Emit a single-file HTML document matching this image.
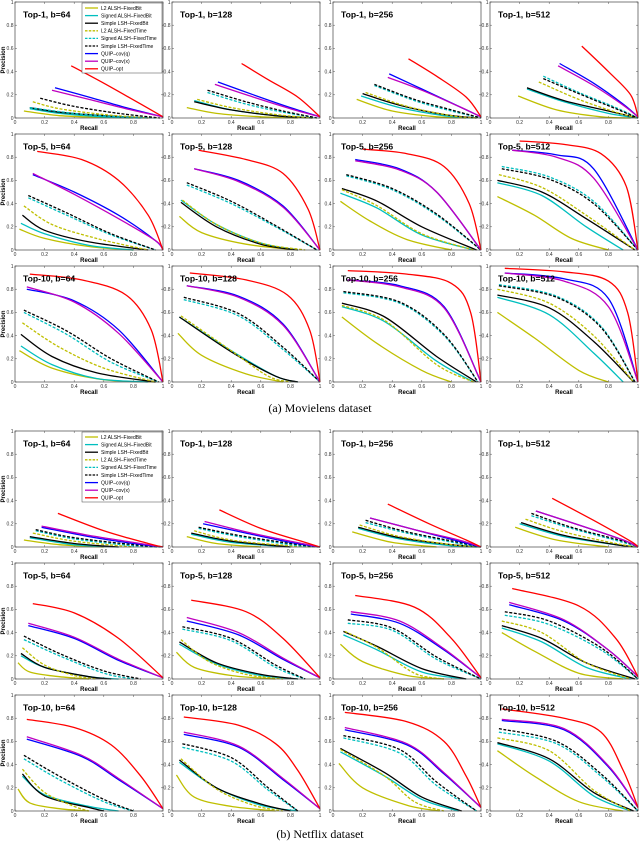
<!DOCTYPE html>
<html><head><meta charset="utf-8"><style>
html,body{margin:0;padding:0;background:#fff;}
svg{display:block;}
text{font-family:"Liberation Sans",Arial,sans-serif;}
</style></head><body>
<svg id="fig" width="640" height="844" viewBox="0 0 640 844" xmlns="http://www.w3.org/2000/svg"></svg>
<script>
// Panel order: Movielens Top-1 (b=64,128,256,512), Top-5, Top-10, then Netflix same order
const panelTitles = ["Top-1, b=64","Top-1, b=128","Top-1, b=256","Top-1, b=512",
 "Top-5, b=64","Top-5, b=128","Top-5, b=256","Top-5, b=512",
 "Top-10, b=64","Top-10, b=128","Top-10, b=256","Top-10, b=512",
 "Top-1, b=64","Top-1, b=128","Top-1, b=256","Top-1, b=512",
 "Top-5, b=64","Top-5, b=128","Top-5, b=256","Top-5, b=512",
 "Top-10, b=64","Top-10, b=128","Top-10, b=256","Top-10, b=512"];
const xTicks = [0,0.2,0.4,0.6,0.8,1];
const yTicks = [0,0.2,0.4,0.6,0.8,1];
const xTickLabels = ["0","0.2","0.4","0.6","0.8","1"];
const yTickLabels = ["0","0.2","0.4","0.6","0.8","1"];
const seriesNames = ["L2 ALSH\u2013FixedBit","Signed ALSH\u2013FixedBit","Simple LSH\u2013FixedBit","L2 ALSH\u2013FixedTime","Signed ALSH\u2013FixedTime","Simple LSH\u2013FixedTime","QUIP\u2013cov(q)","QUIP\u2013cov(x)","QUIP\u2013opt"];

const L2FB = [
[[.06,.06],[.3,.02],[.6,.005],[.8,0]],
[[.1,.09],[.3,.04],[.6,.01],[.85,0]],
[[.16,.16],[.4,.06],[.7,.01],[.9,0]],
[[.19,.19],[.45,.07],[.75,.01],[.95,0]],
[[.03,.18],[.2,.1],[.5,.03],[.8,0]],
[[.05,.29],[.2,.15],[.5,.05],[.85,0]],
[[.05,.42],[.25,.25],[.5,.09],[.8,0]],
[[.05,.46],[.3,.3],[.55,.1],[.8,0]],
[[.03,.27],[.25,.12],[.6,.02],[.95,0]],
[[.04,.42],[.2,.23],[.5,.07],[.75,0]],
[[.06,.56],[.3,.33],[.6,.1],[.8,0]],
[[.05,.6],[.3,.38],[.6,.1],[.8,0]],
[[.06,.06],[.3,.02],[.6,0]],
[[.1,.09],[.3,.03],[.6,0]],
[[.13,.13],[.4,.04],[.7,0]],
[[.17,.17],[.45,.06],[.8,0]],
[[.02,.14],[.1,.06],[.3,.02],[.5,0]],
[[.03,.23],[.15,.1],[.4,.03],[.7,0]],
[[.05,.3],[.2,.15],[.5,.03],[.75,0]],
[[.08,.4],[.3,.24],[.6,.05],[.9,0]],
[[.02,.19],[.1,.07],[.3,.02],[.5,0]],
[[.03,.31],[.15,.12],[.4,.04],[.7,0]],
[[.04,.41],[.2,.2],[.5,.05],[.72,0]],
[[.05,.52],[.3,.3],[.6,.08],[.9,0]]];
const SAFB = [
[[.1,.08],[.3,.04],[.6,.01],[.85,0]],
[[.15,.15],[.4,.07],[.7,.02],[.95,0]],
[[.19,.19],[.45,.09],[.75,.02],[.95,0]],
[[.25,.25],[.5,.14],[.8,.04],[1,0]],
[[.04,.23],[.2,.14],[.5,.04],[.8,0]],
[[.06,.43],[.3,.22],[.6,.06],[.85,0]],
[[.05,.49],[.3,.36],[.6,.13],[.95,0]],
[[.05,.58],[.35,.47],[.65,.2],[.9,0]],
[[.04,.31],[.25,.15],[.55,.03],[.9,0]],
[[.05,.56],[.4,.27],[.7,.05],[.85,0]],
[[.06,.65],[.35,.52],[.7,.18],[.95,0]],
[[.05,.73],[.4,.58],[.7,.25],[.9,0]],
[[.1,.08],[.4,.02],[.7,0]],
[[.13,.11],[.4,.04],[.8,0]],
[[.17,.16],[.45,.07],[.8,.01],[1,0]],
[[.2,.2],[.5,.09],[.85,.02],[1,0]],
[[.04,.2],[.2,.1],[.5,.02],[.7,0]],
[[.05,.3],[.3,.13],[.6,.03],[.85,0]],
[[.07,.38],[.3,.25],[.6,.06],[.9,0]],
[[.08,.44],[.35,.32],[.65,.1],[.95,0]],
[[.05,.3],[.2,.14],[.5,.04],[.7,0]],
[[.05,.42],[.3,.2],[.6,.05],[.85,0]],
[[.05,.51],[.35,.3],[.6,.1],[.85,0]],
[[.05,.58],[.4,.43],[.7,.13],[.95,0]]];
const SLFB = [
[[.1,.09],[.3,.05],[.6,.02],[.9,0]],
[[.15,.14],[.4,.07],[.7,.02],[.95,0]],
[[.2,.21],[.45,.11],[.75,.03],[.97,0]],
[[.25,.26],[.5,.15],[.8,.06],[1,0]],
[[.05,.3],[.2,.17],[.5,.07],[.9,0]],
[[.06,.41],[.3,.2],[.6,.05],[.85,0]],
[[.06,.53],[.3,.42],[.6,.2],[.97,0]],
[[.05,.6],[.35,.5],[.65,.27],[.98,0]],
[[.04,.41],[.25,.22],[.55,.08],[.95,0]],
[[.05,.56],[.4,.26],[.7,.05],[.85,0]],
[[.06,.68],[.35,.56],[.7,.22],[.97,0]],
[[.05,.75],[.4,.64],[.7,.35],[.97,0]],
[[.1,.09],[.4,.03],[.7,0]],
[[.13,.12],[.4,.05],[.8,0]],
[[.17,.17],[.45,.08],[.8,.02],[1,0]],
[[.21,.21],[.5,.1],[.85,.02],[1,0]],
[[.04,.22],[.2,.1],[.5,.02],[.65,0]],
[[.05,.32],[.3,.14],[.6,.04],[.85,0]],
[[.07,.41],[.3,.28],[.6,.09],[.9,0]],
[[.08,.46],[.35,.35],[.65,.14],[.98,0]],
[[.05,.32],[.2,.13],[.5,.03],[.6,0]],
[[.05,.44],[.3,.2],[.6,.06],[.8,0]],
[[.05,.54],[.35,.33],[.6,.12],[.87,0]],
[[.05,.59],[.4,.45],[.7,.16],[.97,0]]];
const L2FT = [
[[.12,.14],[.3,.08],[.6,.03],[.9,0]],
[[.17,.16],[.4,.09],[.7,.03],[.95,0]],
[[.22,.22],[.5,.1],[.8,.02],[.97,0]],
[[.33,.31],[.6,.16],[.85,.05],[1,0]],
[[.06,.38],[.25,.22],[.55,.1],[.9,0]],
[[.07,.43],[.3,.22],[.6,.06],[.9,0]],
[[.06,.52],[.3,.38],[.6,.14],[.95,0]],
[[.06,.65],[.35,.54],[.65,.3],[.98,0]],
[[.05,.51],[.3,.3],[.6,.12],[.95,0]],
[[.06,.57],[.4,.27],[.65,.05],[.8,0]],
[[.06,.66],[.35,.53],[.7,.15],[.95,0]],
[[.05,.8],[.4,.68],[.7,.4],[.97,0]],
[[.12,.12],[.4,.05],[.8,0]],
[[.15,.14],[.4,.06],[.8,.01],[1,0]],
[[.18,.19],[.45,.09],[.8,.02],[1,0]],
[[.24,.24],[.5,.13],[.85,.03],[1,0]],
[[.05,.27],[.2,.12],[.4,.03],[.55,0]],
[[.06,.34],[.25,.15],[.5,.04],[.75,0]],
[[.08,.41],[.3,.27],[.55,.05],[.75,0]],
[[.08,.5],[.35,.4],[.65,.14],[.95,0]],
[[.05,.36],[.2,.16],[.4,.04],[.5,0]],
[[.06,.45],[.3,.19],[.55,.05],[.75,0]],
[[.05,.53],[.35,.3],[.55,.08],[.75,0]],
[[.05,.63],[.4,.52],[.7,.18],[.95,0]]];
const SAFT = [
[[.1,.09],[.4,.04],[.7,.01],[.95,0]],
[[.24,.22],[.5,.12],[.75,.05],[.98,0]],
[[.28,.28],[.55,.15],[.8,.06],[1,0]],
[[.36,.36],[.6,.22],[.85,.09],[1,0]],
[[.09,.45],[.35,.3],[.65,.13],[.95,0]],
[[.1,.56],[.4,.4],[.7,.2],[.98,0]],
[[.09,.64],[.4,.52],[.7,.3],[1,0]],
[[.08,.72],[.4,.63],[.7,.42],[1,0]],
[[.06,.6],[.35,.41],[.65,.17],[.97,0]],
[[.08,.71],[.45,.57],[.75,.28],[1,0]],
[[.07,.77],[.45,.68],[.75,.4],[.98,0]],
[[.06,.84],[.45,.74],[.75,.48],[.98,0]],
[[.14,.14],[.4,.07],[.8,.01],[1,0]],
[[.18,.16],[.45,.09],[.8,.02],[1,0]],
[[.22,.21],[.5,.12],[.85,.03],[1,0]],
[[.28,.27],[.55,.16],[.9,.04],[1,0]],
[[.06,.34],[.3,.2],[.6,.05],[.8,0]],
[[.07,.43],[.4,.33],[.7,.1],[.9,0]],
[[.1,.48],[.4,.42],[.7,.17],[1,0]],
[[.1,.55],[.4,.47],[.75,.25],[1,0]],
[[.06,.45],[.3,.27],[.6,.08],[.8,0]],
[[.07,.55],[.4,.43],[.65,.18],[.85,0]],
[[.07,.63],[.45,.5],[.7,.22],[.97,0]],
[[.06,.68],[.45,.58],[.75,.3],[1,0]]];
const SLFT = [
[[.17,.17],[.4,.1],[.7,.04],[.98,0]],
[[.24,.24],[.5,.14],[.75,.06],[.98,0]],
[[.28,.29],[.55,.16],[.8,.07],[1,0]],
[[.36,.34],[.6,.21],[.85,.08],[1,0]],
[[.09,.47],[.35,.32],[.65,.14],[.95,0]],
[[.1,.58],[.4,.42],[.7,.21],[.98,0]],
[[.09,.65],[.4,.53],[.7,.31],[1,0]],
[[.08,.7],[.4,.61],[.7,.4],[1,0]],
[[.06,.62],[.35,.44],[.65,.2],[.97,0]],
[[.08,.73],[.45,.59],[.75,.3],[1,0]],
[[.07,.78],[.45,.69],[.75,.41],[.98,0]],
[[.06,.83],[.45,.73],[.75,.47],[.98,0]],
[[.14,.15],[.4,.08],[.8,.02],[1,0]],
[[.18,.17],[.45,.1],[.8,.03],[1,0]],
[[.22,.23],[.5,.13],[.85,.04],[1,0]],
[[.28,.29],[.55,.17],[.9,.05],[1,0]],
[[.06,.37],[.3,.22],[.6,.07],[.85,0]],
[[.07,.45],[.4,.35],[.7,.12],[.9,0]],
[[.1,.51],[.4,.44],[.7,.19],[1,0]],
[[.1,.58],[.4,.5],[.75,.27],[1,0]],
[[.06,.48],[.3,.3],[.6,.1],[.8,0]],
[[.07,.58],[.4,.46],[.65,.2],[.85,0]],
[[.07,.65],[.45,.53],[.7,.25],[.97,0]],
[[.06,.71],[.45,.6],[.75,.32],[1,0]]];
const QCOVQ = [
[[.27,.26],[.5,.18],[.75,.09],[1,.01]],
[[.31,.31],[.55,.2],[.8,.09],[1,.01]],
[[.38,.38],[.6,.25],[.85,.1],[1,.01]],
[[.47,.47],[.7,.3],[.9,.12],[1,.01]],
[[.12,.65],[.4,.5],[.7,.3],[.95,.08],[1,0]],
[[.15,.7],[.45,.6],[.75,.38],[1,0]],
[[.15,.78],[.45,.7],[.7,.5],[1,0]],
[[.15,.86],[.45,.82],[.7,.7],[1,0]],
[[.08,.8],[.4,.7],[.7,.45],[1,0]],
[[.1,.83],[.45,.74],[.75,.5],[1,0]],
[[.1,.88],[.45,.83],[.75,.65],[1,0]],
[[.1,.94],[.5,.89],[.8,.72],[1,0]],
[[.18,.17],[.5,.09],[.8,.03],[1,0]],
[[.21,.2],[.5,.12],[.8,.04],[1,0]],
[[.25,.25],[.55,.15],[.85,.05],[1,0]],
[[.31,.31],[.6,.19],[.9,.06],[1,0]],
[[.09,.46],[.4,.35],[.7,.16],[1,.01]],
[[.1,.5],[.45,.38],[.75,.17],[1,.01]],
[[.12,.56],[.45,.48],[.75,.25],[1,.01]],
[[.13,.64],[.5,.5],[.8,.25],[1,.02]],
[[.08,.62],[.45,.47],[.7,.27],[1,.02]],
[[.08,.66],[.45,.55],[.75,.27],[1,.02]],
[[.08,.7],[.5,.57],[.75,.32],[1,.03]],
[[.08,.78],[.5,.7],[.8,.38],[1,.03]]];
const QCOVX = [
[[.25,.24],[.5,.16],[.75,.08],[1,.01]],
[[.29,.29],[.55,.18],[.8,.08],[1,.01]],
[[.37,.35],[.6,.24],[.85,.1],[1,.01]],
[[.46,.45],[.7,.28],[.9,.11],[1,.01]],
[[.12,.66],[.4,.48],[.7,.27],[.95,.08],[1,0]],
[[.15,.7],[.45,.59],[.75,.37],[1,0]],
[[.15,.77],[.45,.69],[.7,.5],[1,0]],
[[.15,.86],[.45,.8],[.7,.62],[1,0]],
[[.08,.82],[.4,.69],[.7,.42],[1,0]],
[[.1,.83],[.45,.73],[.75,.49],[1,0]],
[[.1,.88],[.45,.82],[.75,.64],[1,0]],
[[.1,.94],[.5,.87],[.8,.65],[1,0]],
[[.18,.18],[.5,.1],[.8,.04],[1,0]],
[[.22,.22],[.5,.13],[.8,.05],[1,0]],
[[.25,.25],[.55,.15],[.85,.06],[1,0]],
[[.31,.31],[.6,.19],[.9,.06],[1,0]],
[[.09,.48],[.4,.36],[.7,.17],[1,.01]],
[[.1,.53],[.45,.4],[.75,.18],[1,.01]],
[[.12,.58],[.45,.5],[.75,.26],[1,.01]],
[[.13,.66],[.5,.51],[.8,.25],[1,.02]],
[[.08,.64],[.45,.48],[.7,.28],[1,.02]],
[[.08,.68],[.45,.56],[.75,.28],[1,.02]],
[[.08,.72],[.5,.58],[.75,.33],[1,.03]],
[[.08,.79],[.5,.71],[.8,.39],[1,.03]]];
const QOPT = [
[[.38,.45],[.6,.3],[.85,.12],[1,.01]],
[[.47,.47],[.65,.33],[.85,.18],[1,.01]],
[[.51,.51],[.7,.36],[.9,.18],[1,.01]],
[[.62,.62],[.8,.4],[.95,.2],[1,.01]],
[[.15,.85],[.45,.78],[.7,.6],[.9,.3],[1,0]],
[[.18,.86],[.5,.78],[.75,.66],[.92,.35],[1,0]],
[[.2,.87],[.5,.83],[.75,.72],[.92,.4],[1,0]],
[[.2,.94],[.5,.91],[.75,.83],[.92,.55],[1,0]],
[[.1,.93],[.45,.88],[.75,.75],[.92,.45],[1,0]],
[[.12,.94],[.5,.88],[.78,.75],[.93,.45],[1,0]],
[[.1,.96],[.5,.93],[.8,.85],[.93,.6],[1,0]],
[[.1,.98],[.5,.95],[.8,.87],[.93,.6],[1,0]],
[[.29,.29],[.6,.14],[.9,.03],[1,0]],
[[.32,.32],[.6,.16],[.9,.04],[1,0]],
[[.37,.37],[.65,.2],[.9,.06],[1,0]],
[[.42,.42],[.7,.23],[.95,.05],[1,0]],
[[.12,.65],[.4,.57],[.7,.35],[1,.01]],
[[.13,.68],[.5,.58],[.75,.35],[1,.01]],
[[.15,.72],[.55,.62],[.8,.35],[1,.01]],
[[.15,.78],[.6,.63],[.85,.35],[1,.02]],
[[.08,.79],[.4,.72],[.65,.57],[.85,.3],[1,.02]],
[[.08,.81],[.45,.74],[.7,.58],[.85,.35],[1,.02]],
[[.08,.85],[.5,.77],[.75,.6],[.9,.3],[1,.03]],
[[.08,.88],[.5,.8],[.75,.68],[.9,.35],[1,.03]]];

const SERIES = [L2FB,SAFB,SLFB,L2FT,SAFT,SLFT,QCOVQ,QCOVX,QOPT];
const COLORS = ["#bfbf00","#00bfbf","#000000","#bfbf00","#00bfbf","#000000","#0000ff","#bf00bf","#ff0000"];
const DASHED = [false,false,false,true,true,true,false,false,false];
const SLUGS = ["l2-alsh-fixedbit","signed-alsh-fixedbit","simple-lsh-fixedbit","l2-alsh-fixedtime","signed-alsh-fixedtime","simple-lsh-fixedtime","quip-cov-q","quip-cov-x","quip-opt"];

const NS="http://www.w3.org/2000/svg";
const svg=document.getElementById('fig');
const LEFTS=[15,172,333,490], TOPS=[2,134,266,431,563,695], W=148, H=116;
function mk(tag,attrs,parent){const e=document.createElementNS(NS,tag);for(const k in attrs)e.setAttribute(k,attrs[k]);(parent||svg).appendChild(e);return e;}
function smooth(pts){
  let d="M"+pts[0][0].toFixed(1)+","+pts[0][1].toFixed(1);
  for(let i=0;i<pts.length-1;i++){
    const p0=pts[i-1]||pts[i],p1=pts[i],p2=pts[i+1],p3=pts[i+2]||p2;
    const c1=[p1[0]+(p2[0]-p0[0])/6,p1[1]+(p2[1]-p0[1])/6];
    const c2=[p2[0]-(p3[0]-p1[0])/6,p2[1]-(p3[1]-p1[1])/6];
    d+=" C"+c1[0].toFixed(1)+","+c1[1].toFixed(1)+" "+c2[0].toFixed(1)+","+c2[1].toFixed(1)+" "+p2[0].toFixed(1)+","+p2[1].toFixed(1);
  }
  return d;
}
for(let p=0;p<24;p++){
  const col=p%4,row=Math.floor(p/4);
  const L=LEFTS[col],T=TOPS[row],B=T+H;
  const sx=v=>L+v*W, sy=v=>B-v*H;
  const g=mk('g',{});
  
  
  mk('rect',{x:L,y:T,width:W,height:H,fill:'#fff',stroke:'none'},g);
  xTicks.forEach((t,i)=>{
    const x=sx(t);
    mk('line',{x1:x,y1:B,x2:x,y2:B-2,stroke:'#555','stroke-width':0.5},g);
    mk('line',{x1:x,y1:T,x2:x,y2:T+2,stroke:'#555','stroke-width':0.5},g);
    const tx=mk('text',{x:x,y:B+6,'font-size':5,'text-anchor':'middle',fill:'#333'},g);
    tx.textContent=xTickLabels[i];
    
    
  });
  yTicks.forEach((t,i)=>{
    const y=sy(t);
    mk('line',{x1:L,y1:y,x2:L+2,y2:y,stroke:'#555','stroke-width':0.5},g);
    mk('line',{x1:L+W,y1:y,x2:L+W-2,y2:y,stroke:'#555','stroke-width':0.5},g);
    const ty=mk('text',{x:L-1.5,y:y+1.8,'font-size':5,'text-anchor':'end',fill:'#333'},g);
    ty.textContent=yTickLabels[i];
    
    
  });
  SERIES.forEach((s,si)=>{
    const pts=s[p].map(q=>[sx(q[0]),sy(q[1])]);
    const path=mk('path',{d:smooth(pts),fill:'none',stroke:COLORS[si],'stroke-width':1.3,'stroke-dasharray':DASHED[si]?'3,1.6':'none'},g);
    
    
  });
  mk('rect',{x:L,y:T,width:W,height:H,fill:'none',stroke:'#444','stroke-width':0.7},g);
  const ttl=mk('text',{x:L+8,y:T+15.5,'font-size':8.6,'font-weight':'bold',fill:'#000'},g);
  ttl.textContent=panelTitles[p];
  
  
  const xl=mk('text',{x:L+W/2,y:B+12,'font-size':6,'font-weight':'bold','text-anchor':'middle',fill:'#000'},g);
  xl.textContent="Recall";
  
  
  if(col===0){
    const yl=mk('text',{x:0,y:0,'font-size':6,'font-weight':'bold','text-anchor':'middle',fill:'#000',transform:'translate(5,'+(T+H/2)+') rotate(-90)'},g);
    yl.textContent="Precision";
    
    
  }
  if(p===0||p===12){
    const lg=mk('g',{},g);
    
    
    const lx=82,ly=T+1;
    mk('rect',{x:lx,y:ly,width:W+L-lx-1,height:70,fill:'#fff',stroke:'#444','stroke-width':0.5},lg);
    seriesNames.forEach((n,si)=>{
      const yy=ly+5+si*7.6;
      const ln=mk('line',{x1:lx+3,y1:yy,x2:lx+16,y2:yy,stroke:COLORS[si],'stroke-width':1.3,'stroke-dasharray':DASHED[si]?'2.5,1.3':'none'},lg);
      
      
      const t=mk('text',{x:lx+19,y:yy+1.8,'font-size':5,fill:'#000'},lg);
      t.textContent=n;
      
      
    });
  }
}
const c1=mk('text',{x:320,y:412,'font-size':12,'text-anchor':'middle',fill:'#000',style:'font-family:"Liberation Serif",serif'});
c1.textContent="(a) Movielens dataset";


const c2=mk('text',{x:320,y:838,'font-size':12,'text-anchor':'middle',fill:'#000',style:'font-family:"Liberation Serif",serif'});
c2.textContent="(b) Netflix dataset";


</script>
</body></html>
